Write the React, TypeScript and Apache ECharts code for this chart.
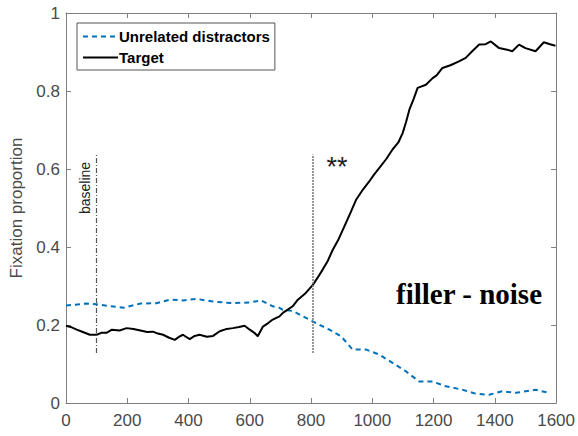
import React, { useEffect, useRef } from "react";
import * as echarts from "echarts";

// Time (ms) and fixation proportion
const targetX = [0, 15, 35, 55, 78, 100, 115, 132, 150, 175, 198, 220, 243, 265, 284, 300, 317, 335, 355, 370, 382, 395, 404, 420, 436, 460, 480, 502, 525, 545, 565, 583, 600, 615, 626, 643, 660, 675, 697, 708, 725, 740, 757, 780, 806, 822, 838, 855, 871, 890, 914, 930, 947, 970, 990, 1005, 1023, 1045, 1066, 1085, 1099, 1110, 1121, 1135, 1148, 1175, 1197, 1210, 1229, 1255, 1283, 1305, 1326, 1349, 1370, 1387, 1414, 1440, 1457, 1479, 1500, 1533, 1560, 1580, 1598];
const targetY = [0.198, 0.195, 0.188, 0.182, 0.175, 0.175, 0.18, 0.18, 0.188, 0.186, 0.192, 0.19, 0.186, 0.182, 0.183, 0.178, 0.175, 0.168, 0.162, 0.17, 0.175, 0.168, 0.164, 0.172, 0.175, 0.17, 0.172, 0.184, 0.19, 0.192, 0.195, 0.198, 0.188, 0.18, 0.171, 0.196, 0.205, 0.214, 0.222, 0.231, 0.24, 0.248, 0.265, 0.28, 0.303, 0.322, 0.342, 0.365, 0.393, 0.42, 0.462, 0.49, 0.521, 0.548, 0.568, 0.585, 0.603, 0.625, 0.65, 0.668, 0.692, 0.72, 0.752, 0.78, 0.808, 0.816, 0.833, 0.84, 0.859, 0.866, 0.876, 0.885, 0.902, 0.919, 0.92, 0.927, 0.91, 0.906, 0.902, 0.919, 0.91, 0.902, 0.925, 0.92, 0.916];

const distractX = [0, 67, 100, 187, 243, 295, 339, 382, 426, 480, 545, 600, 637, 675, 697, 708, 740, 806, 860, 898, 936, 980, 1023, 1066, 1110, 1153, 1197, 1240, 1294, 1337, 1381, 1424, 1468, 1533, 1576];
const distractY = [0.25, 0.255, 0.253, 0.244, 0.255, 0.256, 0.265, 0.263, 0.267, 0.26, 0.256, 0.258, 0.263, 0.248, 0.244, 0.239, 0.236, 0.209, 0.188, 0.171, 0.137, 0.137, 0.124, 0.103, 0.081, 0.055, 0.055, 0.043, 0.034, 0.024, 0.021, 0.03, 0.026, 0.034, 0.026];

const seriesNames = ["Unrelated distractors", "Target"];
const xTicks = [0, 200, 400, 600, 800, 1000, 1200, 1400, 1600];
const yTicks = [0, 0.2, 0.4, 0.6, 0.8, 1];
const baselineX = 100;
const sigX = 805;
const markerRange = [0.128, 0.637];

export default function App() {
  const ref = useRef<HTMLDivElement>(null);
  useEffect(() => {
    if (!ref.current) return;
    const chart = echarts.init(ref.current, null, { renderer: "svg" });
    const axisColor = "#7f7f7f";
    const labelColor = "#4a4a4a";
    const font = "Liberation Sans, Arial, sans-serif";
    const zip = (xs: number[], ys: number[]) => xs.map((x, i) => [x, ys[i]]);
    chart.setOption({
      animation: false,
      backgroundColor: "#ffffff",
      grid: { left: 66, right: 21, top: 13, bottom: 33, containLabel: false },
      legend: {
        orient: "vertical",
        left: 77,
        top: 23,
        itemWidth: 35,
        itemHeight: 14,
        itemGap: 6,
        padding: [6, 5, 5, 5],
        borderColor: "#555",
        borderWidth: 1,
        backgroundColor: "#fff",
        data: seriesNames,
        itemStyle: { opacity: 0 },
        textStyle: { fontFamily: font, fontWeight: "bold", fontSize: 15, color: "#000", padding: [0, 0, 0, -4] },
      },
      xAxis: [
        {
          type: "value",
          min: 0,
          max: 1600,
          interval: 200,
          axisLine: { show: true, lineStyle: { color: axisColor, width: 1 } },
          axisTick: { show: true, inside: true, length: 5, lineStyle: { color: axisColor } },
          axisLabel: { color: labelColor, fontSize: 17, fontFamily: font, margin: 9, formatter: (v: number) => (xTicks.includes(v) ? String(v) : "") },
          splitLine: { show: false },
        },
        {
          type: "value",
          position: "top",
          min: 0,
          max: 1600,
          interval: 200,
          axisLine: { show: true, onZero: false, lineStyle: { color: axisColor, width: 1 } },
          axisTick: { show: true, inside: true, length: 5, lineStyle: { color: axisColor } },
          axisLabel: { show: false },
          splitLine: { show: false },
        },
      ],
      yAxis: [
        {
          type: "value",
          min: 0,
          max: 1,
          interval: 0.2,
          name: "Fixation proportion",
          nameLocation: "middle",
          nameGap: 40,
          nameTextStyle: { color: labelColor, fontSize: 17, fontFamily: font },
          axisLine: { show: true, lineStyle: { color: axisColor, width: 1 } },
          axisTick: { show: true, inside: true, length: 5, lineStyle: { color: axisColor } },
          axisLabel: { color: labelColor, fontSize: 17, fontFamily: font, margin: 6, formatter: (v: number) => (yTicks.some((t) => Math.abs(t - v) < 1e-6) ? String(Math.round(v * 10) / 10) : "") },
          splitLine: { show: false },
        },
        {
          type: "value",
          position: "right",
          min: 0,
          max: 1,
          interval: 0.2,
          axisLine: { show: true, onZero: false, lineStyle: { color: axisColor, width: 1 } },
          axisTick: { show: true, inside: true, length: 5, lineStyle: { color: axisColor } },
          axisLabel: { show: false },
          splitLine: { show: false },
        },
      ],
      series: [
        {
          name: seriesNames[0],
          type: "line",
          symbol: "none",
          data: zip(distractX, distractY),
          lineStyle: { color: "#0072BD", width: 2, type: [5, 4] },
          itemStyle: { color: "#0072BD" },
          z: 3,
        },
        {
          name: seriesNames[1],
          type: "line",
          symbol: "none",
          data: zip(targetX, targetY),
          lineStyle: { color: "#000000", width: 2 },
          itemStyle: { color: "#000000" },
          z: 4,
          markLine: {
            silent: true,
            symbol: "none",
            label: { show: false },
            data: [
              [
                { coord: [baselineX, markerRange[0]], lineStyle: { color: "#555", width: 1.2, type: [5, 2, 1, 2] } },
                { coord: [baselineX, markerRange[1]] },
              ],
              [
                { coord: [sigX, markerRange[0]], lineStyle: { color: "#777", width: 1.5, type: [2, 1] } },
                { coord: [sigX, markerRange[1]] },
              ],
            ],
          },
        },
      ],
      graphic: [
        {
          type: "text",
          x: 85,
          y: 188,
          rotation: Math.PI / 2,
          style: { text: "baseline", fontSize: 14, fontFamily: font, fill: "#222", align: "center", verticalAlign: "middle" },
        },
        {
          type: "text",
          x: 337,
          y: 167,
          style: { text: "**", fontSize: 27, fontFamily: font, fill: "#222", align: "center", verticalAlign: "middle" },
        },
        {
          type: "text",
          x: 469,
          y: 294,
          style: { text: "filler - noise", fontSize: 29, fontWeight: "bold", fontFamily: "Liberation Serif, Times New Roman, serif", fill: "#000", align: "center", verticalAlign: "middle" },
        },
      ],
    });
    return () => chart.dispose();
  }, []);
  return <div ref={ref} style={{ position: "absolute", left: 0, top: 0, width: 578, height: 436 }} />;
}
